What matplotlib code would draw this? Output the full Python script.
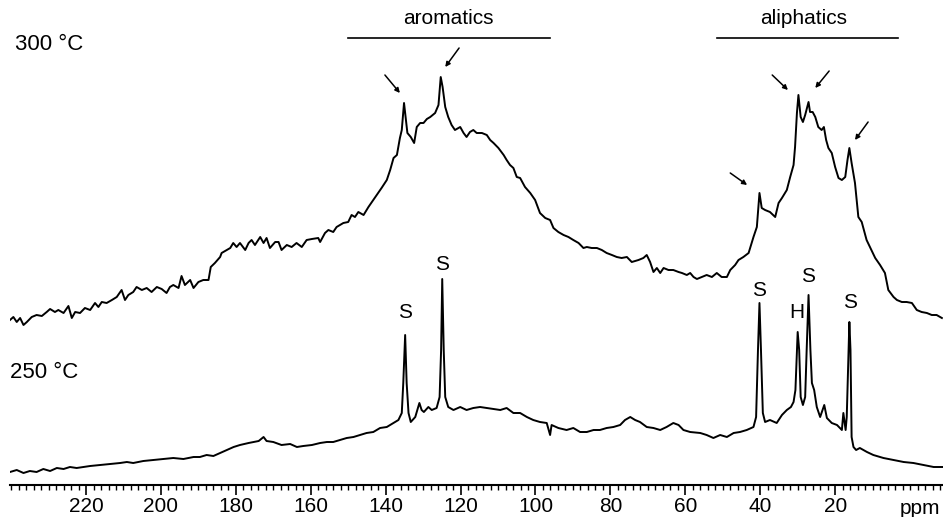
import numpy as np
import matplotlib.pyplot as plt
from matplotlib.ticker import MultipleLocator

plt.rcParams['font.family'] = ['Liberation Sans', 'DejaVu Sans']

# 300 C SPECTRUM (ppm, height above the ruler in px)
ppm_300 = [240.3, 239.4, 238.5, 237.6, 236.7, 235.8, 234.5, 233.2, 231.8, 230.5,
           229.6, 228.3, 227.4, 226.0, 224.7, 223.8, 222.9, 221.6, 220.3, 218.9,
           217.6, 216.7, 215.8, 214.5, 213.1, 211.8, 210.5, 209.6, 208.7, 207.4,
           206.5, 205.1, 203.8, 202.5, 201.1, 199.8, 198.5, 197.6, 196.7, 195.3,
           194.5, 193.6, 192.2, 191.3, 190.0, 188.7, 187.3, 186.7, 185.6, 184.2,
           183.8, 182.4, 181.5, 180.7, 179.8, 178.9, 177.5, 176.6, 175.8, 174.9,
           173.5, 172.6, 171.8, 170.9, 169.5, 168.6, 167.8, 166.4, 165.1, 163.8,
           162.4, 161.1, 159.7, 158.0, 157.5, 156.2, 155.3, 154.0, 153.1, 151.3,
           150.0, 149.1, 148.2, 147.3, 145.9, 144.6, 143.3, 142.4, 141.1, 139.7,
           138.8, 137.9, 137.0, 136.2, 135.7, 135.1, 134.6, 134.2, 133.3, 132.4,
           131.7, 130.8, 129.9, 129.0, 128.1, 126.8, 125.9, 125.3, 124.8, 124.1,
           123.3, 122.4, 121.5, 120.1, 119.2, 118.4, 117.5, 116.6, 115.7, 114.3,
           113.0, 112.1, 111.2, 109.9, 108.5, 107.7, 106.8, 105.9, 105.0, 104.1,
           102.8, 101.4, 100.1, 98.8, 97.4, 96.1, 95.2, 93.9, 92.5, 91.2,
           89.9, 88.5, 87.2, 86.3, 85.0, 83.6, 82.3, 81.0, 79.6, 78.3,
           77.0, 75.6, 74.3, 72.5, 71.2, 70.3, 69.4, 68.5, 67.6, 66.7,
           65.8, 64.5, 63.2, 61.8, 60.9, 59.6, 58.7, 57.8, 56.9, 55.6,
           54.3, 52.9, 51.6, 50.3, 48.9, 48.0, 46.7, 45.8, 44.5, 43.1,
           41.8, 40.9, 40.2, 39.6, 38.7, 37.4, 36.0, 35.1, 34.2, 32.9,
           32.0, 31.1, 30.7, 30.2, 29.8, 29.2, 28.6, 28.0, 27.1, 26.7,
           26.0, 25.3, 24.5, 23.6, 23.0, 22.4, 21.8, 20.9, 20.0, 19.1,
           18.2, 17.3, 16.7, 16.2, 15.6, 14.7, 13.8, 12.9, 11.6, 10.7,
           9.3, 8.0, 6.7, 5.8, 4.4, 3.5, 2.2, 0.9, -0.5, -1.8,
           -3.1, -4.5, -5.8, -7.1, -8.5]
h_300 = [165, 168, 163, 167, 160, 163, 168, 170, 169, 173,
         176, 173, 175, 172, 179, 167, 173, 172, 177, 175,
         182, 178, 183, 182, 185, 188, 195, 185, 190, 193,
         198, 195, 197, 193, 198, 196, 192, 198, 200, 197,
         209, 200, 205, 197, 203, 205, 205, 218, 222, 228,
         232, 235, 237, 242, 238, 242, 235, 242, 245, 240,
         248, 242, 247, 237, 243, 243, 235, 240, 238, 242,
         238, 245, 246, 247, 243, 252, 255, 253, 258, 262,
         263, 270, 268, 273, 270, 278, 285, 290, 297, 305,
         315, 327, 330, 347, 355, 382, 365, 352, 348, 342,
         358, 362, 362, 366, 368, 372, 380, 408, 398, 378,
         368, 360, 355, 358, 352, 348, 353, 355, 352, 352,
         350, 345, 342, 337, 330, 325, 320, 317, 308, 307,
         298, 292, 285, 272, 267, 265, 257, 253, 250, 248,
         245, 242, 237, 238, 237, 237, 235, 232, 230, 228,
         227, 228, 223, 225, 227, 230, 223, 213, 217, 212,
         217, 215, 215, 213, 212, 210, 212, 208, 206, 208,
         210, 208, 212, 208, 208, 215, 220, 225, 228, 232,
         248, 258, 292, 277, 275, 273, 268, 282, 287, 295,
         308, 320, 338, 372, 390, 368, 363, 370, 383, 373,
         373, 368, 358, 355, 358, 345, 337, 332, 318, 307,
         305, 308, 325, 337, 322, 302, 268, 263, 245, 238,
         227, 220, 212, 195, 188, 185, 183, 183, 182, 175,
         173, 172, 170, 170, 167]

# 250 C SPECTRUM
ppm_250 = [240.3, 238.5, 236.7, 235.0, 233.2, 231.4, 229.6, 227.8, 226.0, 224.3,
           222.5, 220.7, 218.9, 216.3, 213.6, 210.9, 209.1, 207.4, 204.7, 202.0,
           199.4, 196.7, 194.0, 191.3, 189.6, 187.8, 186.0, 184.2, 182.4, 180.6,
           178.9, 176.6, 175.3, 173.9, 172.6, 171.8, 170.0, 167.8, 165.5, 163.7,
           162.0, 159.7, 157.5, 155.7, 154.0, 152.2, 150.4, 148.6, 146.8, 145.1,
           143.3, 141.5, 139.7, 137.9, 136.6, 135.7, 135.3, 134.8, 134.4, 133.9,
           133.3, 132.1, 131.0, 130.4, 129.8, 128.6, 127.7, 126.4, 125.6, 125.2,
           124.9, 124.5, 124.1, 123.3, 121.9, 120.1, 118.4, 116.6, 114.8, 113.0,
           111.2, 109.4, 107.7, 105.9, 104.1, 102.3, 100.6, 98.8, 97.0, 96.1,
           95.7, 93.9, 91.7, 89.9, 88.1, 86.3, 84.5, 82.8, 81.0, 79.2,
           77.4, 76.1, 74.7, 73.4, 72.1, 70.3, 68.5, 66.7, 65.0, 63.2,
           61.8, 60.5, 58.7, 56.0, 54.3, 52.5, 50.7, 48.9, 47.1, 45.4,
           43.6, 41.8, 41.1, 40.6, 40.2, 39.8, 39.3, 38.7, 37.4, 35.6,
           34.2, 32.9, 31.8, 31.1, 30.6, 30.2, 30.0, 29.6, 29.2, 28.6,
           28.0, 27.6, 27.1, 26.6, 26.2, 25.6, 24.9, 24.0, 22.9, 22.2,
           20.9, 19.5, 18.2, 17.8, 17.2, 16.9, 16.4, 16.2, 15.9, 15.6,
           15.1, 14.4, 13.4, 11.5, 9.8, 7.1, 4.4, 1.7, -0.9, -3.6,
           -6.3, -9.0]
h_250 = [13, 15, 12, 14, 13, 16, 14, 17, 16, 18,
         17, 18, 19, 20, 21, 22, 23, 22, 24, 25,
         26, 27, 26, 28, 28, 30, 29, 32, 35, 38,
         40, 42, 43, 44, 48, 44, 43, 40, 41, 38,
         39, 40, 42, 43, 43, 45, 47, 48, 50, 52,
         53, 57, 58, 62, 65, 72, 102, 150, 102, 72,
         63, 68, 82, 75, 73, 78, 75, 77, 88, 135,
         206, 135, 88, 78, 75, 78, 75, 77, 78, 77,
         76, 75, 77, 72, 72, 68, 65, 63, 62, 50,
         60, 57, 55, 57, 53, 53, 55, 55, 57, 58,
         60, 65, 68, 65, 63, 58, 57, 55, 58, 62,
         60, 55, 53, 52, 50, 47, 50, 48, 52, 53,
         55, 58, 68, 135, 182, 135, 72, 63, 65, 62,
         70, 75, 78, 83, 95, 135, 153, 135, 88, 80,
         88, 135, 190, 135, 102, 95, 78, 68, 80, 67,
         62, 60, 55, 72, 55, 68, 135, 163, 135, 48,
         38, 35, 37, 33, 30, 27, 25, 23, 22, 20,
         18, 18]

# PEAK LABELS
peak_text = ['S', 'S', 'S', 'H', 'S', 'S']
peak_ppm = [134.8, 124.9, 40.3, 30.1, 27.2, 16.0]
peak_h = [172, 221, 195, 172, 208, 182]

# ARROWS ON THE 300 C SPECTRUM (tail ppm, tail h, head ppm, head h)
arrows = [(140.2, 410, 136.2, 392), (120.4, 437, 124.1, 418),
          (36.8, 410, 32.6, 395), (21.6, 414, 25.3, 397),
          (11.2, 363, 14.7, 345), (48.0, 312, 43.5, 300)]

tick_ppm = [220, 200, 180, 160, 140, 120, 100, 80, 60, 40, 20]

fig = plt.figure(figsize=(9.43, 5.17), dpi=100)
ax = fig.add_axes([10 / 943, 32 / 517, 933 / 943, 485 / 517])

ax.plot(ppm_300, h_300, color='black', lw=1.4)
ax.plot(ppm_250, h_250, color='black', lw=1.4)

for t, x, y in zip(peak_text, peak_ppm, peak_h):
    ax.text(x, y, t, ha='center', va='center', fontsize=15)

for x0, y0, x1, y1 in arrows:
    ax.annotate('', xy=(x1, y1), xytext=(x0, y0),
                arrowprops=dict(arrowstyle='-|>', color='black', lw=1.1,
                                mutation_scale=7, shrinkA=0, shrinkB=0))

# REGION BARS
ax.plot([150.0, 96.1], [447, 447], color='black', lw=1.2)
ax.plot([51.5, 3.2], [447, 447], color='black', lw=1.2)
ax.text(123.3, 466, 'aromatics', ha='center', va='center', fontsize=15)
ax.text(28.3, 466, 'aliphatics', ha='center', va='center', fontsize=15)

ax.text(239.0, 440, '300 \u00b0C', ha='left', va='center', fontsize=16)
ax.text(240.3, 112, '250 \u00b0C', ha='left', va='center', fontsize=16)

# AXIS
ax.set_xlim(240.3, -8.8)
ax.set_ylim(0, 485)
for s in ['top', 'left', 'right']:
    ax.spines[s].set_visible(False)
ax.spines['bottom'].set_linewidth(1.5)
ax.set_yticks([])
ax.set_xticks(tick_ppm)
ax.xaxis.set_minor_locator(MultipleLocator(2))
ax.tick_params(axis='x', which='major', direction='out', length=7, width=1.2,
               labelsize=15, pad=2)
ax.tick_params(axis='x', which='minor', direction='out', length=3.5, width=1.0)
ax.text(-2.7, -23, 'ppm', ha='center', va='center', fontsize=15, clip_on=False)

fig.savefig('out.png', dpi=100)
